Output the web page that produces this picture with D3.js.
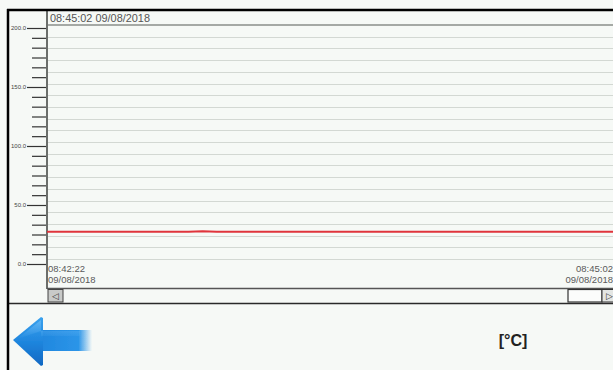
<!DOCTYPE html>
<html>
<head>
<meta charset="utf-8">
<script src="https://cdnjs.cloudflare.com/ajax/libs/d3/7.8.5/d3.min.js"></script>
<style>
  html, body { margin: 0; padding: 0; background: #f6f9f6; }
  svg { display: block; }
  text { font-family: "Liberation Sans", Arial, sans-serif; }
</style>
</head>
<body>
<svg id="chart" width="613" height="370"></svg>
<script>
// Trend window
const startTime = "08:42:22";
const endTime = "08:45:02";
const dateLabel = "09/08/2018";
const headerLabel = "08:45:02 09/08/2018";
const unitLabel = "[°C]";

// Temperature samples: seconds after start, value in °C
const sampleSeconds = [0, 20, 40, 42, 44, 46, 48, 60, 80, 100, 120, 140, 160];
const sampleValues  = [27.3, 27.3, 27.3, 27.5, 27.7, 27.5, 27.3, 27.4, 27.4, 27.4, 27.4, 27.4, 27.4];

// Axis ticks
const majorTicks = [0, 50, 100, 150, 200];
const yDomain = [0, 200];

const svg = d3.select("#chart");
const W = 613, H = 370;
const plotLeft = 47, plotTop = 25, plotRight = 616;

const parse = d3.timeParse("%H:%M:%S");
const t0 = parse(startTime), t1 = parse(endTime);

const x = d3.scaleTime().domain([t0, t1]).range([plotLeft, plotRight - 3]);
const y = d3.scaleLinear().domain(yDomain).range([264, 28]);

// background
svg.append("rect").attr("width", W).attr("height", H).attr("fill", "#f6f9f6");

// horizontal grid: 20 evenly spaced rules across the plot
const gridScale = d3.scaleLinear().domain([0, 20]).range([plotTop, 259]);
svg.append("g").selectAll("line").data(d3.range(1, 21)).join("line")
  .attr("x1", plotLeft).attr("x2", W)
  .attr("y1", d => Math.round(gridScale(d)) + 0.5)
  .attr("y2", d => Math.round(gridScale(d)) + 0.5)
  .attr("stroke", "#d3d8d3").attr("stroke-width", 1);

// header separator
svg.append("line").attr("x1", plotLeft).attr("x2", W).attr("y1", 25).attr("y2", 25)
  .attr("stroke", "#8a8e8a").attr("stroke-width", 1.5);

svg.append("text").attr("x", 50).attr("y", 22)
  .attr("font-size", 11).attr("fill", "#555")
  .attr("textLength", 100).attr("lengthAdjust", "spacingAndGlyphs")
  .text(headerLabel);

// y axis: major ticks with labels, minor ticks every 50/6
const minorTicks = d3.range(0, 200.001, 50 / 6).filter(v => !majorTicks.some(m => Math.abs(m - v) < 1e-6));
const yAxisMinor = d3.axisLeft(y).tickValues(minorTicks).tickSize(15).tickFormat("");
const yAxisMajor = d3.axisLeft(y).tickValues(majorTicks).tickSize(20).tickFormat(d3.format(".1f"));

const gMinor = svg.append("g").attr("transform", `translate(${plotLeft},0)`).call(yAxisMinor);
gMinor.select(".domain").remove();
gMinor.selectAll("line").attr("stroke", "#333").attr("stroke-width", 1.2);

const gMajor = svg.append("g").attr("transform", `translate(${plotLeft},0)`).call(yAxisMajor);
gMajor.select(".domain").remove();
gMajor.selectAll("line").attr("stroke", "#333").attr("stroke-width", 1.2);
gMajor.selectAll("text").attr("font-size", 6).attr("fill", "#444")
  .attr("x", -21).attr("dy", "0.32em");

// vertical axis line of plot
svg.append("line").attr("x1", plotLeft).attr("x2", plotLeft).attr("y1", 10).attr("y2", 289)
  .attr("stroke", "#6b6e6b").attr("stroke-width", 2);

// temperature trace
const series = sampleSeconds.map((s, i) => ({ t: d3.timeSecond.offset(t0, s), v: sampleValues[i] }));
const line = d3.line().x(d => x(d.t)).y(d => y(d.v));
svg.append("path").datum(series)
  .attr("d", line).attr("fill", "none")
  .attr("stroke", "#e0343c").attr("stroke-width", 2);

// time labels under the plot
const fmt = d3.timeFormat("%H:%M:%S");
const xLabels = [{ t: t0, anchor: "start", dx: 1 }, { t: t1, anchor: "end", dx: 0 }];
const gx = svg.append("g");
xLabels.forEach(l => {
  gx.append("text").attr("x", x(l.t) + l.dx).attr("y", 272).attr("text-anchor", l.anchor)
    .attr("font-size", 9.5).attr("fill", "#5a5a5a").text(fmt(l.t));
  gx.append("text").attr("x", x(l.t) + l.dx).attr("y", 283).attr("text-anchor", l.anchor)
    .attr("font-size", 9.5).attr("fill", "#5a5a5a").text(dateLabel);
});

// scrollbar
svg.append("line").attr("x1", plotLeft).attr("x2", W).attr("y1", 288.5).attr("y2", 288.5)
  .attr("stroke", "#555").attr("stroke-width", 1.5);
svg.append("rect").attr("x", 48).attr("y", 289.5).attr("width", 15).attr("height", 12.5)
  .attr("fill", "#c8cac8").attr("stroke", "#444").attr("stroke-width", 1);
svg.append("text").attr("x", 55.5).attr("y", 299).attr("text-anchor", "middle")
  .attr("font-size", 9).attr("fill", "#333").text("◁");
svg.append("rect").attr("x", 568).attr("y", 289.5).attr("width", 34).attr("height", 12.5)
  .attr("fill", "#fbfcfb").attr("stroke", "#333").attr("stroke-width", 1.2);
svg.append("rect").attr("x", 602).attr("y", 289.5).attr("width", 14).attr("height", 12.5)
  .attr("fill", "#e4e6e4").attr("stroke", "#333").attr("stroke-width", 1);
svg.append("text").attr("x", 609).attr("y", 299).attr("text-anchor", "middle")
  .attr("font-size", 9).attr("fill", "#333").text("▷");

// panel separator
svg.append("line").attr("x1", 8).attr("x2", W).attr("y1", 303.5).attr("y2", 303.5)
  .attr("stroke", "#2a2a2a").attr("stroke-width", 1.5);

// outer frame
svg.append("line").attr("x1", 7).attr("x2", W).attr("y1", 10).attr("y2", 10)
  .attr("stroke", "#000").attr("stroke-width", 2.5);
svg.append("line").attr("x1", 8).attr("x2", 8).attr("y1", 9).attr("y2", H)
  .attr("stroke", "#000").attr("stroke-width", 2.5);

// back arrow
const defs = svg.append("defs");
const gShaft = defs.append("linearGradient").attr("id", "shaft").attr("x1", 0).attr("x2", 1).attr("y1", 0).attr("y2", 0);
gShaft.append("stop").attr("offset", "0").attr("stop-color", "#1f86de");
gShaft.append("stop").attr("offset", "0.75").attr("stop-color", "#2c95e8");
gShaft.append("stop").attr("offset", "1").attr("stop-color", "#2c95e8").attr("stop-opacity", 0);
const gHead = defs.append("linearGradient").attr("id", "head").attr("x1", 0).attr("x2", 0).attr("y1", 0).attr("y2", 1);
gHead.append("stop").attr("offset", "0").attr("stop-color", "#3aa2ee");
gHead.append("stop").attr("offset", "0.5").attr("stop-color", "#1f86de");
gHead.append("stop").attr("offset", "1").attr("stop-color", "#0f68c2");
const gGloss = defs.append("linearGradient").attr("id", "gloss").attr("x1", 0).attr("x2", 0).attr("y1", 0).attr("y2", 1);
gGloss.append("stop").attr("offset", "0").attr("stop-color", "#8fd0ff").attr("stop-opacity", 0.9);
gGloss.append("stop").attr("offset", "1").attr("stop-color", "#8fd0ff").attr("stop-opacity", 0);
const blur = defs.append("filter").attr("id", "soft").attr("x", "-10%").attr("y", "-10%").attr("width", "120%").attr("height", "120%");
blur.append("feGaussianBlur").attr("stdDeviation", 0.6);

const arrow = svg.append("g").attr("filter", "url(#soft)");
arrow.append("rect").attr("x", 38).attr("y", 330).attr("width", 54).attr("height", 21).attr("fill", "url(#shaft)");
arrow.append("path").attr("d", "M13,340 L41,317 L43,318 L43,365 L41,366 Z").attr("fill", "url(#head)");
arrow.append("path").attr("d", "M17,339 L41,320 L41,336 L80,336 L80,331 L41,331 Z").attr("fill", "url(#gloss)").attr("opacity", 0.5);

// unit label
svg.append("text").attr("x", 513).attr("y", 346).attr("text-anchor", "middle")
  .attr("font-family", "'Liberation Serif', 'Times New Roman', serif")
  .attr("font-weight", "bold").attr("font-size", 16).attr("fill", "#222")
  .text(unitLabel);
</script>
</body>
</html>
